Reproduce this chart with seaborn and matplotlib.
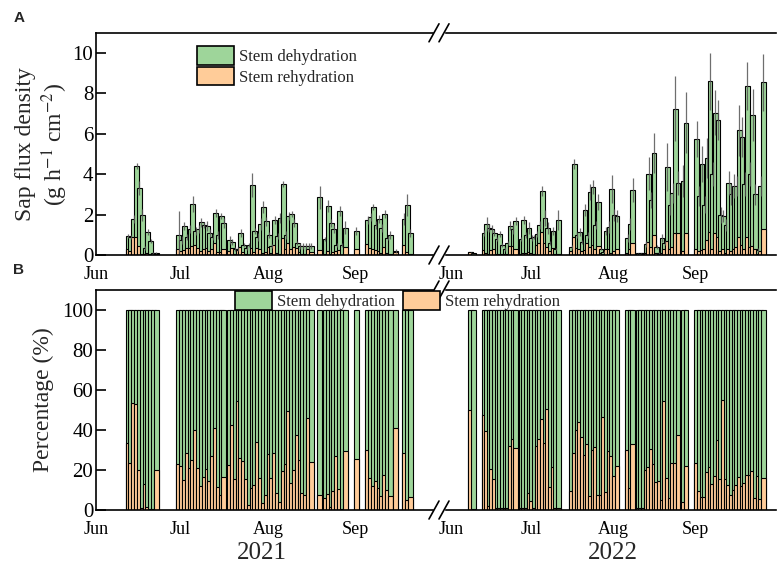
import matplotlib
matplotlib.use("Agg")
import matplotlib.pyplot as plt
import seaborn as sns
import pandas as pd
import numpy as np
from matplotlib.patches import Patch
from matplotlib.lines import Line2D

sns.set_theme(style="ticks")
plt.rcParams["font.family"] = ["Liberation Serif", "DejaVu Serif"]
plt.rcParams["mathtext.fontset"] = "stix"

GREEN = "#9ED59A"
ORANGE = "#FFCC99"

# ---------------- data (day index: 0 = 1 June) ----------------
month_ticks = [0, 30, 61, 92]
month_labels = ["Jun", "Jul", "Aug", "Sep"]

days_2021 = (list(range(11, 22)) + list(range(29, 46)) + list(range(47, 77)) + [79]
             + list(range(81, 89)) + [92] + list(range(96, 105)) + [106] + [109, 110, 111])
dehyd_2021 = ([0.95, 0.88, 1.79, 4.4, 3.3, 2.0, 0.33, 1.14, 0.7, 0.12, 0.1]
              + [1.0, 0.75, 1.44, 0.9, 1.28, 2.52, 1.19, 1.3, 1.61, 1.5, 1.44, 1.11, 0.88, 2.1, 1.0, 1.94, 1.6]
              + [0.75, 0.66, 0.28, 0.3, 1.08, 0.5, 0.33, 0.5, 3.48, 1.21, 0.9, 1.54, 2.37, 1.66, 1.0,
                 0.45, 1.71, 0.95, 1.82, 3.5, 1.0, 1.94, 2.04, 1.58, 0.6, 0.45, 0.45, 0.45, 0.45, 0.45]
              + [2.85, 0.78, 2.44, 1.58, 1.28, 0.5, 2.19, 0.5, 1.36]
              + [1.19]
              + [1.74, 1.9, 2.37, 1.5, 1.77, 1.33, 2.02, 0.86, 1.0]
              + [0.22]
              + [1.77, 2.49, 1.08])
rehyd_2021 = ([0.3, 0.2, 0.88, 0.9, 0.45, 0.05, 0.05, 0.08, 0.03, 0.02, 0.03]
              + [0.3, 0.21, 0.26, 0.36, 0.34, 0.45, 0.5, 0.35, 0.22, 0.3, 0.37, 0.19, 0.32, 0.6, 0.13, 0.16, 0.32]
              + [0.22, 0.35, 0.05, 0.25, 0.38, 0.16, 0.06, 0.01, 0.35, 0.17, 0.35, 0.3, 0.08, 0.13, 0.39,
                 0.09, 0.5, 0.09, 0.07, 0.85, 0.3, 0.6, 0.32, 0.4, 0.36, 0.15, 0.04, 0.04, 0.3, 0.14]
              + [0.23, 0.05, 0.21, 0.03, 0.14, 0.19, 0.26, 0.01, 0.4]
              + [0.3]
              + [0.55, 0.36, 0.32, 0.26, 0.22, 0.1, 0.38, 0.1, 0.07]
              + [0.15]
              + [0.5, 0.13, 0.07])
err_2021 = ([0.1, 0.1, 0.2, 0.15, 0.35, 0.3, 0.1, 0.15, 0.1, 0.05, 0.05]
            + [1.2, 0.2, 0.2, 0.15, 0.2, 0.4, 0.2, 0.2, 0.2, 0.15, 0.25, 0.2, 0.15, 0.2, 0.2, 0.15, 0.25]
            + [0.2, 0.15, 0.1, 0.1, 0.2, 0.1, 0.1, 0.1, 0.6, 0.15, 0.2, 0.3, 0.3, 0.2, 0.15,
               0.1, 0.2, 0.15, 0.25, 0.15, 0.2, 0.2, 0.15, 0.2, 0.1, 0.15, 0.15, 0.15, 0.15, 0.15]
            + [0.55, 0.1, 0.3, 0.2, 0.2, 0.1, 0.25, 0.1, 0.3]
            + [0.2]
            + [0.2, 0.2, 0.15, 0.2, 0.2, 0.2, 0.2, 0.1, 0.2]
            + [0.1]
            + [0.3, 0.55, 0.2])
pct_2021 = ([33.6, 23.6, 53.7, 52.8, 20.2, 1, 13.2, 1.7, 0.5, 0.5, 20.2]
            + [22.9, 21.9, 15.2, 28.6, 20.9, 25.1, 39.8, 21.1, 11.9, 16.6, 20.4, 14.5, 26.9, 41.1, 11.4, 7.7, 16.6]
            + [22.7, 42.6, 15.6, 54.7, 26.1, 24.6, 15.6, 2.5, 10.9, 12.5, 34.1, 16.1, 3.3, 7.5, 27.9,
               16.1, 28.6, 8.5, 3.8, 19.6, 23.1, 49.3, 13.5, 20.1, 37.6, 25.1, 8.4, 7.7, 46, 23.9]
            + [7.5, 6, 7.9, 1.7, 9.7, 27.1, 10.5, 0.5, 29.4]
            + [25.3]
            + [29.8, 16.1, 11.9, 14.7, 11, 6.9, 17.6, 10.2, 6.9]
            + [41.1]
            + [28.6, 5, 6.4])

days_2022 = ([7, 8] + list(range(12, 25)) + list(range(26, 41)) + list(range(45, 63))
             + [66, 67, 68] + list(range(70, 86)) + [87, 88] + list(range(92, 118)))
dehyd_2022 = ([0.13, 0.1]
              + [1.11, 1.53, 1.33, 1.29, 1.11, 0.8, 1.03, 0.5, 0.3, 0.6, 1.46, 1.29, 1.69]
              + [0.78, 1.74, 1.0, 1.33, 0.83, 0.9, 1.03, 1.5, 3.15, 1.82, 1.33, 0.61, 1.2, 0.3, 1.74]
              + [0.41, 4.51, 1.0, 1.16, 0.66, 2.24, 1.0, 3.12, 3.37, 1.5, 2.62, 0.3, 0.13, 1.19, 1.38, 3.28, 2.0, 1.94]
              + [0.83, 1.53, 3.23, 0.08, 0.08, 0.1, 0.53, 4.03, 2.74, 5.06, 0.4, 0.12, 0.83, 0.6, 4.35,
                 2.5, 3.07, 7.25, 3.57, 3.65, 6.55]
              + [5.75, 2.94, 4.51, 2.5, 4.81, 8.59, 4.0, 7.05, 6.67, 2.0, 1.91, 1.5, 3.57, 3.0, 3.43,
                 3.43, 6.17, 5.84, 3.5, 8.37, 4.0, 6.92, 3.0, 0.25, 3.43, 8.54])
rehyd_2022 = ([0.13, 0.0]
              + [0.25, 0.1, 0.05, 0.25, 0.3, 0.05, 0.05, 0.03, 0.03, 0.05, 0.45, 0.45, 0.3]
              + [0.05, 0.1, 0.1, 0.15, 0.1, 0.05, 0.5, 0.6, 1.13, 0.58, 0.4, 0.2, 0.35, 0.05, 0.05]
              + [0.2, 0.91, 0.35, 0.3, 0.2, 0.25, 0.6, 0.4, 0.5, 0.3, 0.46, 0.1, 0.05, 0.3, 0.3, 0.1, 0.2, 0.28]
              + [0.1, 0.3, 0.61, 0.02, 0.02, 0.03, 0.1, 0.66, 0.4, 1.0, 0.1, 0.05, 0.1, 0.3, 0.7,
                 0.3, 0.4, 1.11, 1.08, 0.2, 1.11]
              + [0.3, 0.2, 0.25, 0.3, 0.75, 1.16, 0.3, 1.08, 0.91, 0.2, 0.3, 0.1, 0.3, 0.2, 0.3,
                 0.4, 0.91, 0.5, 0.3, 0.91, 0.4, 0.45, 0.3, 0.05, 0.2, 1.28])
err_2022 = ([0.02, 0.02]
            + [0.15, 0.35, 0.2, 0.2, 0.15, 0.1, 0.15, 0.1, 0.1, 0.1, 0.2, 0.25, 0.2]
            + [0.1, 0.2, 0.15, 0.3, 0.15, 0.1, 0.15, 0.2, 0.25, 0.4, 0.3, 0.1, 0.2, 0.05, 0.5]
            + [0.1, 0.25, 0.15, 0.2, 0.1, 0.3, 0.15, 0.4, 0.35, 0.2, 0.4, 0.05, 0.05, 0.2, 0.3, 0.7, 0.3, 0.3]
            + [0.2, 0.3, 0.6, 0.02, 0.02, 0.02, 0.15, 0.8, 0.4, 1.0, 0.1, 0.05, 0.2, 0.1, 1.2,
               0.5, 0.5, 1.6, 0.6, 0.8, 1.5]
            + [0.9, 0.5, 0.9, 0.4, 1.0, 1.4, 0.6, 1.1, 1.0, 0.4, 0.3, 0.3, 0.6, 0.5, 0.6,
               0.5, 1.25, 1.0, 0.6, 1.2, 0.6, 1.3, 0.5, 0.1, 0.5, 1.4])
pct_2022 = ([49.8, 0.5]
            + [47.3, 39.3, 2, 20.6, 15.6, 1, 1, 1, 1, 1, 32.1, 35.3, 30.9]
            + [1, 1, 1, 8.5, 4.7, 1, 32.1, 35.3, 45.5, 33.4, 50.7, 11.4, 21.4, 1, 1]
            + [9.5, 28.4, 40.1, 44, 36.5, 27.3, 33.1, 7, 29.8, 31.4, 7.5, 7.5, 46.5, 9.2, 29.4, 26.8, 17.2, 21.9]
            + [29.8, 11, 33.1, 0.8, 0.8, 0.8, 20, 21.4, 30.6, 23.1, 13.9, 14.4, 5, 54.3, 16.1,
               6, 23.4, 23.6, 37.6, 3.8, 22.2]
            + [23.6, 9.7, 6.4, 6.4, 18.9, 21.4, 13, 17.1, 35.1, 15.4, 54.8, 15.6, 12.5, 7.7, 10,
               12.7, 16.7, 12.2, 13.5, 17.7, 17.7, 19.5, 5.8, 17, 5.5, 16])

years = ["2021", "2022"]
legend_labels = ["Stem dehydration", "Stem rehydration"]

# ---------------- figure ----------------
W, H = 777, 566
fig = plt.figure(figsize=(W / 100, H / 100), dpi=100)


def fx(px):
    return px / W


def fy(py):
    return 1 - py / H


BAR_W = 1.77
OFFSET = BAR_W / 2 - 0.5   # bar left edge at day - 0.5

top_y0, top_y1 = 255.0, 32.8
bot_y0, bot_y1 = 510.0, 290.0
x_2021 = (96.0, 440.0, (0.0, 122.0))
x_2022 = (440.0, 776.0, (-4.1, 122.2))


def make_ax(xinfo, y0, y1):
    l, r, xl = xinfo
    ax = fig.add_axes([fx(l), fy(y0), (r - l) / W, (y0 - y1) / H])
    ax.set_xlim(*xl)
    return ax


def draw_bars(ax, pos, vals, color, zextra):
    n0 = len(ax.patches)
    df = pd.DataFrame({"pos": pos, "val": vals})
    sns.barplot(data=df, x="pos", y="val", native_scale=True, width=BAR_W,
                color=color, saturation=1, edgecolor="black", linewidth=0.8,
                errorbar=None, ax=ax)
    parr = np.asarray(pos)
    for p in ax.patches[n0:]:
        c = p.get_x() + p.get_width() / 2
        i = int(np.argmin(np.abs(parr - c)))
        p.set_zorder(1 + 0.002 * i + zextra)


ax_t21 = make_ax(x_2021, top_y0, top_y1)
ax_t22 = make_ax(x_2022, top_y0, top_y1)
ax_b21 = make_ax(x_2021, bot_y0, bot_y1)
ax_b22 = make_ax(x_2022, bot_y0, bot_y1)

for ax, days, dh, rh, er in [(ax_t21, days_2021, dehyd_2021, rehyd_2021, err_2021),
                             (ax_t22, days_2022, dehyd_2022, rehyd_2022, err_2022)]:
    pos = [d + OFFSET for d in days]
    draw_bars(ax, pos, dh, GREEN, 0.0)
    draw_bars(ax, pos, rh, ORANGE, 0.001)
    ax.errorbar(pos, dh, yerr=er, fmt="none", ecolor="#555555", elinewidth=0.9,
                capsize=0, zorder=1.9, alpha=0.85)
    ax.set_ylim(0, 11)

for ax, days, pc in [(ax_b21, days_2021, pct_2021), (ax_b22, days_2022, pct_2022)]:
    pos = [d + OFFSET for d in days]
    draw_bars(ax, pos, [100] * len(pos), GREEN, 0.0)
    draw_bars(ax, pos, pc, ORANGE, 0.001)
    ax.set_ylim(0, 110)

for ax in [ax_t21, ax_t22, ax_b21, ax_b22]:
    ax.set_xlabel("")
    ax.set_ylabel("")
    ax.set_xlim(*(x_2021[2] if ax in (ax_t21, ax_b21) else x_2022[2]))
    ax.set_xticks(month_ticks)
    ax.set_xticklabels(month_labels, fontsize=13)
    ax.tick_params(axis="x", length=0, pad=8, colors="black")
    ax.spines["right"].set_visible(False)
    for s in ["top", "bottom", "left"]:
        ax.spines[s].set_linewidth(1.2)
        ax.spines[s].set_color("black")
    ax.set_facecolor("none")

for ax in [ax_t22, ax_b22]:
    ax.spines["left"].set_visible(False)
    ax.set_yticks([])

ax_t21.set_yticks([0, 2, 4, 6, 8, 10])
ax_b21.set_yticks([0, 20, 40, 60, 80, 100])
for ax in [ax_t21, ax_b21]:
    ax.tick_params(axis="y", direction="in", length=7, width=1.2, labelsize=15,
                   pad=2, colors="black")

ax_t21.set_ylabel("Sap flux density\n(g h$^{-1}$ cm$^{-2}$)", fontsize=17, labelpad=2,
                  linespacing=1.15)
ax_b21.set_ylabel("Percentage (%)", fontsize=17, labelpad=6)

# axis-break marks
for ypix in [top_y1, top_y0, bot_y1, bot_y0]:
    fig.add_artist(plt.Rectangle((fx(434), fy(ypix) - 0.004), fx(10), 0.008,
                                 transform=fig.transFigure, color="white", zorder=5))
    for xc in [434, 444]:
        fig.add_artist(Line2D([fx(xc - 5), fx(xc + 5)], [fy(ypix + 9), fy(ypix - 9)],
                              transform=fig.transFigure, color="black", lw=1.2, zorder=6))

# legends (drawn above the break marks, as in the reference)
handles = [Patch(facecolor=GREEN, edgecolor="black", linewidth=1.2),
           Patch(facecolor=ORANGE, edgecolor="black", linewidth=1.2)]
leg1 = fig.legend(handles, legend_labels, loc="upper left",
                  bbox_to_anchor=(fx(197), fy(46)), frameon=False, fontsize=12,
                  handlelength=2.2, handleheight=1.35, handletextpad=0.3,
                  labelspacing=0.1, borderpad=0, borderaxespad=0)
leg2 = fig.legend(handles, legend_labels, loc="upper left", ncol=2,
                  bbox_to_anchor=(fx(235), fy(291)), frameon=False, fontsize=12,
                  handlelength=2.2, handleheight=1.35, handletextpad=0.3,
                  columnspacing=0.5, borderpad=0, borderaxespad=0)
leg1.set_zorder(10)
leg2.set_zorder(10)

# year labels and panel letters
fig.text(fx(262), fy(553), years[0], fontsize=18, ha="center", va="center")
fig.text(fx(613), fy(553), years[1], fontsize=18, ha="center", va="center")
fig.text(fx(19), fy(18), "A", fontsize=11, fontweight="bold",
         family=["Liberation Sans", "DejaVu Sans"], ha="center", va="center")
fig.text(fx(19), fy(270), "B", fontsize=11, fontweight="bold",
         family=["Liberation Sans", "DejaVu Sans"], ha="center", va="center")

fig.savefig("out.png", dpi=100)
